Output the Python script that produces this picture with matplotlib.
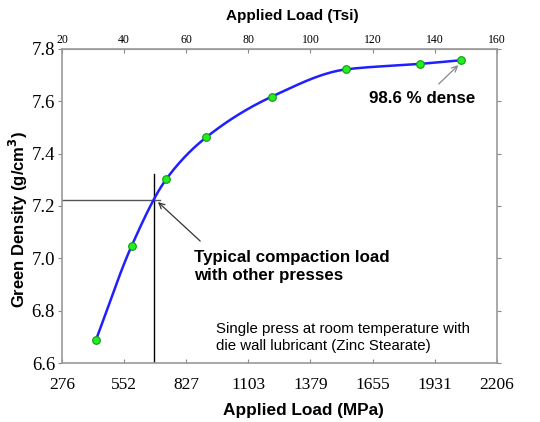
import matplotlib
matplotlib.use("Agg")
import matplotlib.pyplot as plt
import numpy as np

# measured points (load in Tsi, green density in g/cm3)
load_tsi = [30.9, 42.4, 53.6, 66.5, 87.6, 111.5, 135.4, 148.6]
density = [6.687, 7.047, 7.303, 7.463, 7.618, 7.722, 7.743, 7.757]

tsi_ticks = [20, 40, 60, 80, 100, 120, 140, 160]
mpa_labels = ['276', '552', '827', '1103', '1379', '1655', '1931', '2206']
density_ticks = [6.6, 6.8, 7.0, 7.2, 7.4, 7.6, 7.8]

typical_load = 49.7     # Tsi
typical_density = 7.223


def pchip(x, y, xs):
    """Monotone cubic interpolation through the points"""
    x = np.asarray(x, float)
    y = np.asarray(y, float)
    h = np.diff(x)
    d = np.diff(y) / h
    m = np.zeros_like(y)
    for k in range(1, len(x) - 1):
        if d[k - 1] * d[k] > 0:
            w1 = 2 * h[k] + h[k - 1]
            w2 = h[k] + 2 * h[k - 1]
            m[k] = (w1 + w2) / (w1 / d[k - 1] + w2 / d[k])
    m[0] = d[0]
    m[-1] = d[-1]
    idx = np.clip(np.searchsorted(x, xs) - 1, 0, len(x) - 2)
    t = (xs - x[idx]) / h[idx]
    h00 = 2 * t**3 - 3 * t**2 + 1
    h10 = t**3 - 2 * t**2 + t
    h01 = -2 * t**3 + 3 * t**2
    h11 = t**3 - t**2
    return h00 * y[idx] + h10 * h[idx] * m[idx] + h01 * y[idx + 1] + h11 * h[idx] * m[idx + 1]


serif = 'Liberation Serif'
sans = 'Liberation Sans'

fig = plt.figure(figsize=(5.4, 4.22), dpi=100)
ax = fig.add_axes([0.1148, 0.1398, 0.8052, 0.7442])

xs = np.linspace(load_tsi[0], load_tsi[-1], 300)
ax.plot(xs, pchip(load_tsi, density, xs), color='#1f1fff', lw=1.8, zorder=3)
ax.plot(load_tsi, density, 'o', ms=5.5, mfc='#22ee22', mec='#119911', mew=0.8, zorder=4)

# typical compaction load guide lines
ax.plot([typical_load, typical_load], [6.6, 7.321], color='black', lw=1.0, zorder=2)
ax.plot([20, 51.5], [typical_density, typical_density], color='#555555', lw=1.0, zorder=2)

ax.annotate('', xy=(50.9, 7.215), xytext=(64.5, 7.066),
            arrowprops=dict(arrowstyle='->', color='#333333', lw=0.9,
                            shrinkA=0, shrinkB=0))
ax.text(62.6, 7.03, 'Typical compaction load\nwith other presses',
        fontsize=12.2, fontweight='bold', family=sans, va='top', ha='left')

ax.annotate('', xy=(147.6, 7.738), xytext=(141.3, 7.666),
            arrowprops=dict(arrowstyle='->', color='#888888', lw=0.9,
                            shrinkA=0, shrinkB=0))
ax.text(119.0, 7.609, '98.6 % dense', fontsize=12.2, fontweight='bold', family=sans,
        ha='left', va='center')
ax.text(69.5, 6.64, 'Single press at room temperature with\ndie wall lubricant (Zinc Stearate)',
        fontsize=10.8, family=sans, ha='left', va='bottom', linespacing=1.2)

ax.set_xlim(20, 160)
ax.set_ylim(6.6, 7.8)
ax.set_xticks(tsi_ticks)
ax.set_xticklabels(mpa_labels, family=serif, fontsize=12.5)
ax.set_yticks(density_ticks)
ax.set_yticklabels([f'{v:.1f}' for v in density_ticks], family=serif, fontsize=13.5)
ax.tick_params(axis='x', direction='in', length=3, color='#888888', pad=10)
ax.tick_params(axis='y', direction='out', length=3, color='#888888', pad=2,
               right=True)
for s in ax.spines.values():
    s.set_color('#999999')
    s.set_linewidth(1.2)

top = ax.secondary_xaxis('top')
top.set_xticks(tsi_ticks)
top.set_xticklabels([str(t) for t in tsi_ticks], family=serif, fontsize=8.5)
top.tick_params(direction='in', length=3, color='#888888', pad=2)
top.spines['top'].set_color('#999999')

# axis titles placed where the original puts them
fig.text(0.561, 0.028, 'Applied Load (MPa)', fontsize=12.4, fontweight='bold',
         family=sans, ha='center', va='center')
fig.text(0.541, 0.962, 'Applied Load (Tsi)', fontsize=11, fontweight='bold',
         family=sans, ha='center', va='center')
fig.text(0.034, 0.481, 'Green Density (g/cm$^\\mathbf{3}$)', fontsize=12,
         fontweight='bold', family=sans, ha='center', va='center', rotation=90)

fig.savefig('out.png', dpi=100)
